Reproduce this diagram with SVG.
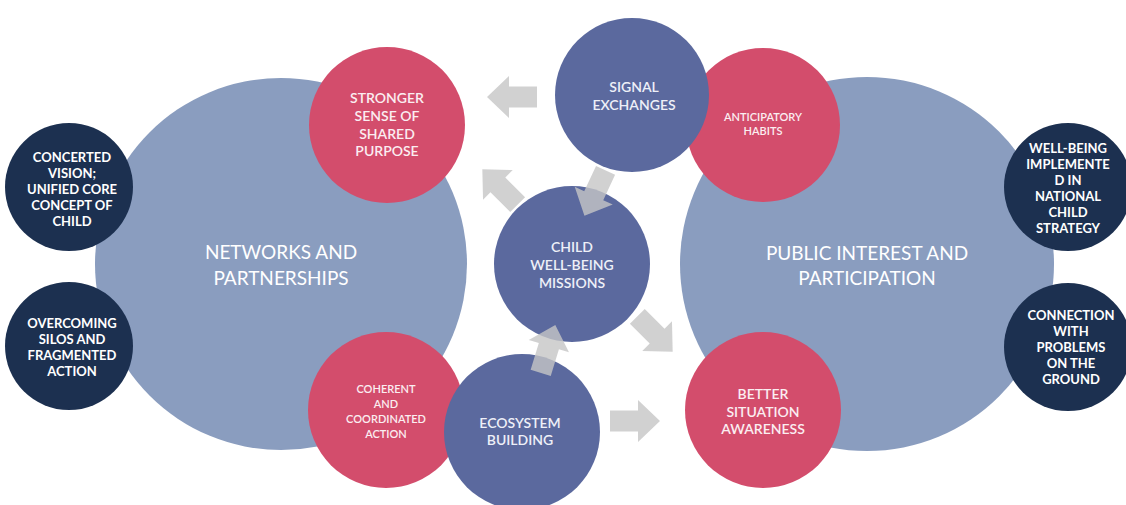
<svg xmlns="http://www.w3.org/2000/svg" width="1126" height="505" viewBox="0 0 1126 505">
  <defs>
    <style>
      text { font-family: Lato, "Open Sans", "Liberation Sans", sans-serif; text-anchor: middle; }
      .big { fill: #8a9dbf; }
      .dark { fill: #1c3050; }
      .pink { fill: #d34d6c; }
      .blue { fill: #5b699e; }
      .tbig { fill: #ffffff; font-size: 19px; font-weight: 400; }
      .tdark { fill: #ffffff; font-size: 13px; font-weight: 700; }
      .tpink { fill: #fbeef1; font-size: 14px; font-weight: 600; }
      .tpinks { fill: #fbeef1; font-size: 11px; font-weight: 600; }
      .tblue { fill: #eef0f8; font-size: 14px; font-weight: 600; }
      .arrow { fill: #c6c6c6; opacity: 0.8; }
    </style>
    <path id="blockArrow" d="M -25 -10.5 L 3 -10.5 L 3 -21 L 25 0 L 3 21 L 3 10.5 L -25 10.5 Z"/>
  </defs>

  <rect x="0" y="0" width="1126" height="505" fill="#ffffff"/>

  <g id="networks-and-partnerships">
    <circle class="big" cx="281" cy="264" r="186"/>
    <text class="tbig"><tspan x="281" y="259">NETWORKS AND</tspan><tspan x="281" y="285">PARTNERSHIPS</tspan></text>
  </g>

  <g id="public-interest-and-participation">
    <circle class="big" cx="867" cy="264" r="187"/>
    <text class="tbig"><tspan x="867" y="260">PUBLIC INTEREST AND</tspan><tspan x="867" y="285">PARTICIPATION</tspan></text>
  </g>

  <g id="concerted-vision">
    <circle class="dark" cx="69" cy="187" r="64"/>
    <text class="tdark"><tspan x="72" y="162">CONCERTED</tspan><tspan x="72" y="178">VISION;</tspan><tspan x="72" y="194">UNIFIED CORE</tspan><tspan x="72" y="210">CONCEPT OF</tspan><tspan x="72" y="226">CHILD</tspan></text>
  </g>

  <g id="overcoming-silos">
    <circle class="dark" cx="69" cy="346" r="64"/>
    <text class="tdark"><tspan x="72" y="328">OVERCOMING</tspan><tspan x="72" y="344">SILOS AND</tspan><tspan x="72" y="360">FRAGMENTED</tspan><tspan x="72" y="376">ACTION</tspan></text>
  </g>

  <g id="well-being-implemented">
    <circle class="dark" cx="1068" cy="187" r="64"/>
    <text class="tdark"><tspan x="1068" y="153">WELL-BEING</tspan><tspan x="1068" y="169">IMPLEMENTE</tspan><tspan x="1068" y="185">D IN</tspan><tspan x="1068" y="201">NATIONAL</tspan><tspan x="1068" y="217">CHILD</tspan><tspan x="1068" y="233">STRATEGY</tspan></text>
  </g>

  <g id="connection-with-problems">
    <circle class="dark" cx="1068" cy="347" r="64"/>
    <text class="tdark"><tspan x="1071" y="320">CONNECTION</tspan><tspan x="1071" y="336">WITH</tspan><tspan x="1071" y="352">PROBLEMS</tspan><tspan x="1071" y="368">ON THE</tspan><tspan x="1071" y="384">GROUND</tspan></text>
  </g>

  <g id="stronger-sense">
    <circle class="pink" cx="387" cy="125" r="78"/>
    <text class="tpink"><tspan x="387" y="103">STRONGER</tspan><tspan x="387" y="121">SENSE OF</tspan><tspan x="387" y="139">SHARED</tspan><tspan x="387" y="156">PURPOSE</tspan></text>
  </g>

  <g id="coherent-action">
    <circle class="pink" cx="386" cy="410" r="78"/>
    <text class="tpinks"><tspan x="386" y="393">COHERENT</tspan><tspan x="386" y="408">AND</tspan><tspan x="386" y="423">COORDINATED</tspan><tspan x="386" y="438">ACTION</tspan></text>
  </g>

  <g id="anticipatory-habits">
    <circle class="pink" cx="763" cy="125" r="77"/>
    <text class="tpinks"><tspan x="763" y="121">ANTICIPATORY</tspan><tspan x="763" y="135">HABITS</tspan></text>
  </g>

  <g id="better-situation-awareness">
    <circle class="pink" cx="763" cy="410" r="78"/>
    <text class="tpink"><tspan x="763" y="399">BETTER</tspan><tspan x="763" y="417">SITUATION</tspan><tspan x="763" y="434">AWARENESS</tspan></text>
  </g>

  <g id="signal-exchanges">
    <circle class="blue" cx="632" cy="95" r="77"/>
    <text class="tblue"><tspan x="634" y="92">SIGNAL</tspan><tspan x="634" y="110">EXCHANGES</tspan></text>
  </g>

  <g id="child-well-being-missions">
    <circle class="blue" cx="572" cy="264" r="78"/>
    <text class="tblue"><tspan x="572" y="252">CHILD</tspan><tspan x="572" y="270">WELL-BEING</tspan><tspan x="572" y="288">MISSIONS</tspan></text>
  </g>

  <g id="ecosystem-building">
    <circle class="blue" cx="522" cy="432" r="78"/>
    <text class="tblue"><tspan x="520" y="428">ECOSYSTEM</tspan><tspan x="520" y="445">BUILDING</tspan></text>
  </g>

  <g id="connectors">
    <use href="#blockArrow" class="arrow" transform="translate(512 97) rotate(180)"/>
    <use href="#blockArrow" class="arrow" transform="translate(500 187) rotate(-135)"/>
    <use href="#blockArrow" class="arrow" transform="translate(595 193) rotate(115)"/>
    <use href="#blockArrow" class="arrow" transform="translate(548 349) rotate(-73)"/>
    <use href="#blockArrow" class="arrow" transform="translate(655 334) rotate(45)"/>
    <use href="#blockArrow" class="arrow" transform="translate(635 421)"/>
  </g>
</svg>
